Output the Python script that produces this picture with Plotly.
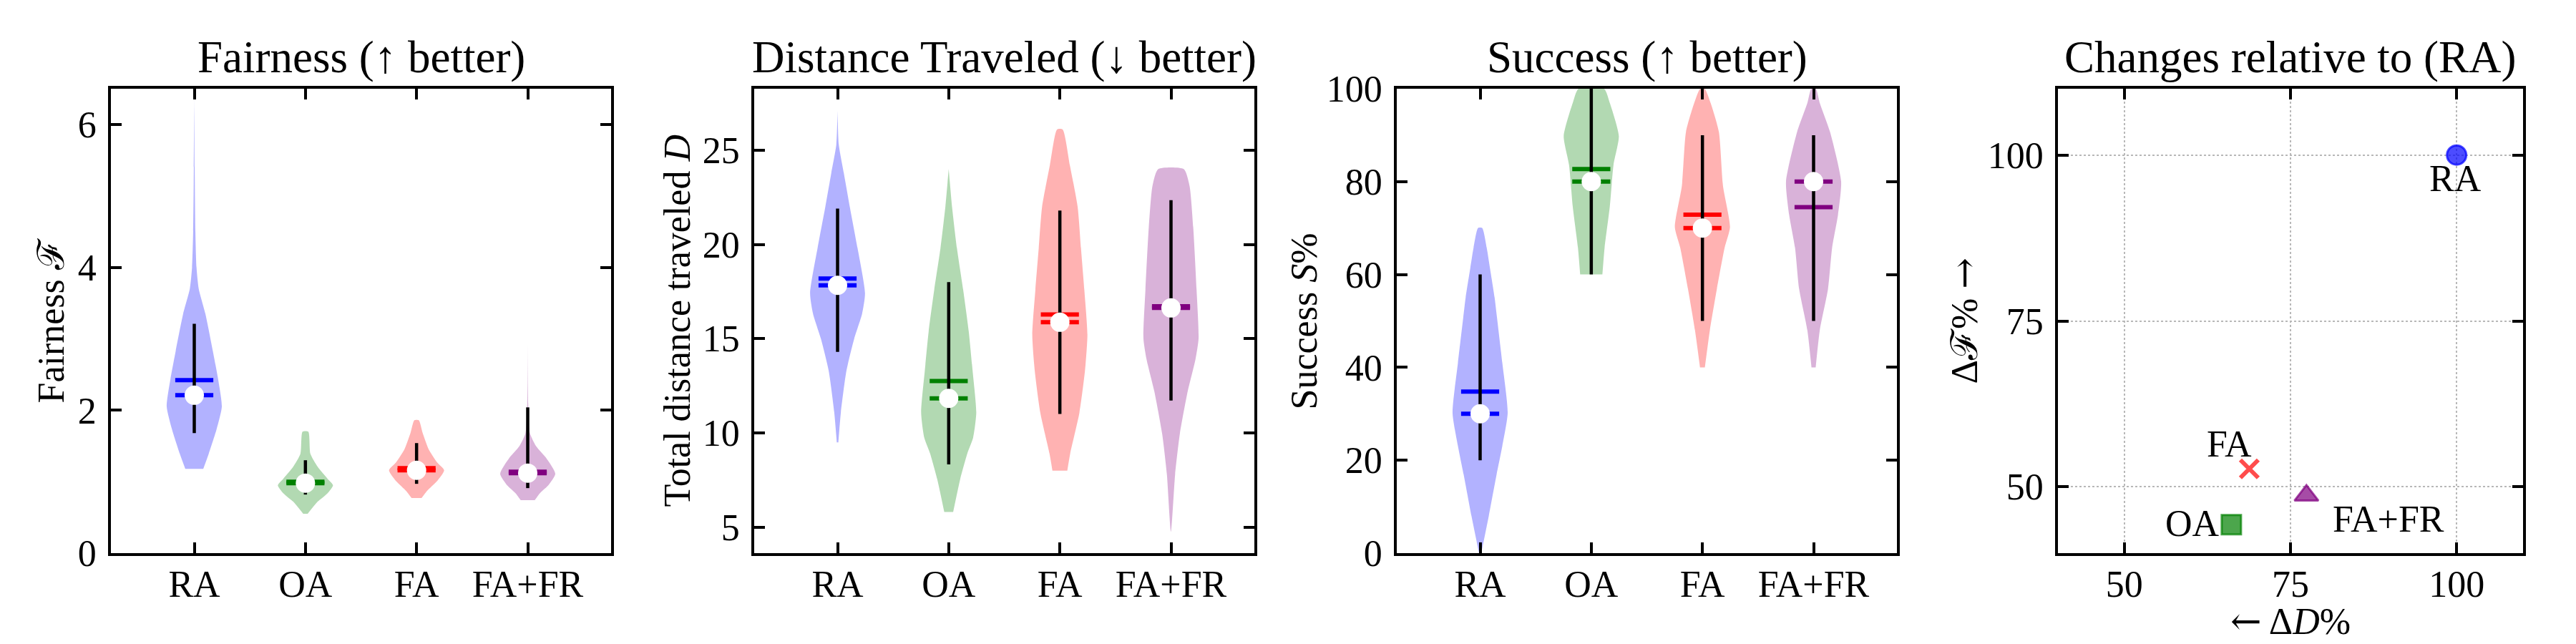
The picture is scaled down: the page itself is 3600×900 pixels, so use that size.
import plotly.graph_objects as go

# ---------------- data ----------------
categories = ["RA", "OA", "FA", "FA+FR"]
positions = [0, 1, 2, 3]

# Fairness violin outlines (y level, half width in category units)
fair_ra_y = [1.18, 1.39, 1.73, 2.05, 2.43, 2.83, 3.35, 3.70, 4.0, 4.5, 5.4, 6.35]
fair_ra_w = [0.081, 0.13, 0.20, 0.248, 0.215, 0.167, 0.10, 0.04, 0.02, 0.01, 0.004, 0.0]
fair_oa_y = [0.55, 0.72, 0.84, 0.95, 1.04, 1.21, 1.39, 1.70]
fair_oa_w = [0.02, 0.11, 0.2, 0.248, 0.2, 0.11, 0.045, 0.026]
fair_fa_y = [0.77, 0.87, 1.01, 1.16, 1.27, 1.45, 1.68, 1.86]
fair_fa_w = [0.045, 0.093, 0.185, 0.248, 0.185, 0.11, 0.055, 0.02]
fair_fafr_y = [0.74, 0.84, 0.95, 1.11, 1.33, 1.50, 1.68, 2.1, 2.92]
fair_fafr_w = [0.063, 0.11, 0.185, 0.248, 0.167, 0.074, 0.02, 0.004, 0.0]
fair_mean = [2.42, 1.00, 1.19, 1.14]
fair_median = [2.21, 0.98, 1.16, 1.12]
fair_lo = [1.68, 0.82, 0.97, 0.91]
fair_hi = [3.21, 1.30, 1.54, 2.04]

# Distance violin outlines
dist_ra_y = [9.5, 11.1, 13.3, 15.0, 16.3, 17.4, 19.8, 22.0, 23.8, 25.3, 27.1]
dist_ra_w = [0.007, 0.03, 0.08, 0.15, 0.22, 0.247, 0.18, 0.11, 0.056, 0.011, 0.0]
dist_oa_y = [5.8, 7.56, 8.9, 9.75, 11.07, 13.3, 15.4, 17.6, 19.8, 22.0, 24.0]
dist_oa_w = [0.04, 0.104, 0.167, 0.22, 0.248, 0.215, 0.18, 0.13, 0.074, 0.03, 0.0]
dist_fa_y = [8.0, 8.9, 11.07, 13.3, 15.2, 17.6, 19.8, 22.0, 24.2, 26.1]
dist_fa_w = [0.067, 0.093, 0.176, 0.226, 0.248, 0.22, 0.19, 0.16, 0.09, 0.025]
dist_fafr_y = [4.76, 7.8, 9.97, 12.2, 13.9, 15.0, 17.6, 20.9, 23.1, 24.0]
dist_fafr_w = [0.0, 0.037, 0.08, 0.15, 0.22, 0.248, 0.23, 0.2, 0.167, 0.115]
dist_mean = [18.19, 12.75, 16.28, 16.72]
dist_median = [17.83, 11.83, 15.87, 16.63]
dist_lo = [14.3, 8.33, 11.0, 11.72]
dist_hi = [21.9, 18.0, 21.8, 22.35]

# Success violin outlines
succ_ra_y = [0, 8.0, 16.9, 23.1, 30.2, 40.9, 50.7, 55.1, 61.3, 65.8, 70]
succ_ra_w = [0.01, 0.078, 0.148, 0.2, 0.248, 0.2, 0.152, 0.13, 0.089, 0.059, 0.019]
succ_oa_y = [60, 65.8, 74.7, 83.6, 89.8, 96.9, 100]
succ_oa_w = [0.1, 0.12, 0.167, 0.2, 0.248, 0.167, 0.115]
succ_fa_y = [40, 48, 56.9, 65.8, 70.2, 79.1, 90.7, 96.9, 100]
succ_fa_w = [0.022, 0.067, 0.13, 0.2, 0.248, 0.185, 0.148, 0.074, 0.02]
succ_fafr_y = [40, 48, 56.9, 65.8, 72.9, 80, 90.7, 96.9, 100]
succ_fafr_w = [0.019, 0.056, 0.13, 0.167, 0.22, 0.248, 0.148, 0.056, 0.02]
succ_mean = [34.8, 82.7, 72.9, 74.5]
succ_median = [30, 80, 70, 80]
succ_lo = [20, 60, 50, 50]
succ_hi = [60, 100, 90, 90]

# Relative changes (scatter)
rel_dist = [100, 66.1, 68.8, 77.4]
rel_fair = [100, 44.3, 52.7, 48.7]

# ---------------- style ----------------
FONT = "Liberation Serif, DejaVu Serif, serif"
TICK_SIZE = 52
TITLE_SIZE = 63
fill_colors = ["rgba(0,0,255,0.3)", "rgba(0,128,0,0.3)", "rgba(255,0,0,0.3)", "rgba(128,0,128,0.3)"]
line_colors = ["#0000ff", "#008000", "#ff0000", "#800080"]
marker_colors = ["rgba(0,0,255,0.7)", "rgba(0,128,0,0.7)", "rgba(255,0,0,0.7)", "rgba(128,0,128,0.7)"]
marker_symbols = ["circle", "square", "x-thin", "triangle-up"]

W, H = 3600, 900
plot_x = [(155, 854), (1054, 1753), (1952, 2651), (2876, 3526)]
plot_top, plot_bot = 124, 773
ydom = [1 - plot_bot / H, 1 - plot_top / H]

fig = go.Figure()

panels = [
    ([(fair_ra_y, fair_ra_w), (fair_oa_y, fair_oa_w), (fair_fa_y, fair_fa_w), (fair_fafr_y, fair_fafr_w)],
     fair_mean, fair_median, fair_lo, fair_hi),
    ([(dist_ra_y, dist_ra_w), (dist_oa_y, dist_oa_w), (dist_fa_y, dist_fa_w), (dist_fafr_y, dist_fafr_w)],
     dist_mean, dist_median, dist_lo, dist_hi),
    ([(succ_ra_y, succ_ra_w), (succ_oa_y, succ_oa_w), (succ_fa_y, succ_fa_w), (succ_fafr_y, succ_fafr_w)],
     succ_mean, succ_median, succ_lo, succ_hi),
]

for k, (outlines, means, medians, los, his) in enumerate(panels):
    xa = "x" if k == 0 else f"x{k+1}"
    ya = "y" if k == 0 else f"y{k+1}"
    for i, (ys, ws) in enumerate(outlines):
        p = positions[i]
        xs = [p + w for w in ws] + [p - w for w in reversed(ws)]
        yy = list(ys) + list(reversed(ys))
        fig.add_trace(go.Scatter(x=xs, y=yy, xaxis=xa, yaxis=ya, mode="lines",
                                 fill="toself", fillcolor=fill_colors[i],
                                 line=dict(width=0, shape="spline", smoothing=0.6),
                                 hoverinfo="skip", showlegend=False))
    # mean and median bars
    for i in range(4):
        fig.add_trace(go.Scatter(x=[positions[i], positions[i]], y=[means[i], medians[i]],
                                 xaxis=xa, yaxis=ya, mode="markers",
                                 marker=dict(symbol="line-ew", size=38,
                                             line=dict(width=6, color=line_colors[i])),
                                 hoverinfo="skip", showlegend=False))
    # black range lines
    for i in range(4):
        fig.add_trace(go.Scatter(x=[positions[i], positions[i]], y=[los[i], his[i]],
                                 xaxis=xa, yaxis=ya, mode="lines",
                                 line=dict(width=4.5, color="black"),
                                 hoverinfo="skip", showlegend=False))
    # white median dots
    fig.add_trace(go.Scatter(x=positions, y=medians, xaxis=xa, yaxis=ya, mode="markers",
                             marker=dict(symbol="circle", size=27, color="white"),
                             hoverinfo="skip", showlegend=False))

# Scatter panel
for i in range(4):
    if marker_symbols[i] == "x-thin":
        mk = dict(symbol="x-thin", size=25, line=dict(width=6, color=marker_colors[i]))
    else:
        sz = 27 if marker_symbols[i] != "triangle-up" else 29
        mk = dict(symbol=marker_symbols[i], size=sz, color=marker_colors[i],
                  line=dict(width=3, color=marker_colors[i]))
    fig.add_trace(go.Scatter(x=[rel_dist[i]], y=[rel_fair[i]], xaxis="x4", yaxis="y4",
                             mode="markers", marker=mk, hoverinfo="skip", showlegend=False))

label_shift = {"RA": (-2, -33), "OA": (-54, 2), "FA": (-28, 35), "FA+FR": (115, -33)}
annotations = []
for i, c in enumerate(categories):
    dx, dy = label_shift[c]
    annotations.append(dict(x=rel_dist[i], y=rel_fair[i], xref="x4", yref="y4", text=c,
                            showarrow=False, xshift=dx, yshift=dy,
                            font=dict(family=FONT, size=TICK_SIZE, color="black")))

titles = ["Fairness (↑ better)", "Distance Traveled (↓ better)", "Success (↑ better)",
          "Changes relative to (RA)"]
for k, t in enumerate(titles):
    cx = (plot_x[k][0] + plot_x[k][1]) / 2 / W
    annotations.append(dict(x=cx, y=1 - 80 / H, xref="paper", yref="paper", text=t,
                            showarrow=False, xanchor="center", yanchor="middle",
                            font=dict(family=FONT, size=TITLE_SIZE, color="black")))

ARROW = "<span style='font-family:DejaVu Serif'>{}</span>"
ylabels = ["Fairness ℱ", "Total distance traveled <i>D</i>", "Success <i>S</i>%",
           "Δℱ% " + ARROW.format("→")]
ylabel_x = [71, 946, 1822, 2745]
for k, t in enumerate(ylabels):
    annotations.append(dict(x=ylabel_x[k] / W, y=sum(ydom) / 2, xref="paper", yref="paper",
                            text=t, textangle=-90, showarrow=False, xanchor="center",
                            yanchor="middle", font=dict(family=FONT, size=TICK_SIZE, color="black")))
annotations.append(dict(x=(plot_x[3][0] + plot_x[3][1]) / 2 / W, y=1 - 868 / H, xref="paper",
                        yref="paper", text=ARROW.format("←") + " Δ<i>D</i>%", showarrow=False,
                        xanchor="center", yanchor="middle",
                        font=dict(family=FONT, size=TICK_SIZE, color="black")))

axis_common = dict(showline=True, linewidth=3.5, linecolor="black", mirror="ticks",
                   ticks="inside", ticklen=15, tickwidth=3.5, tickcolor="black",
                   showgrid=False, zeroline=False, automargin=False,
                   tickfont=dict(family=FONT, size=TICK_SIZE, color="black"))

layout = dict(width=W, height=H, margin=dict(l=0, r=0, t=0, b=0, pad=0, autoexpand=False),
              template="none",
              paper_bgcolor="white", plot_bgcolor="white", showlegend=False,
              annotations=annotations)

yranges = [[0, 6.5], [3.62, 28.26], [0, 100]]
ytickvals = [[0, 2, 4, 6], [5, 10, 15, 20, 25], [0, 20, 40, 60, 80, 100]]
for k in range(3):
    xn = "xaxis" if k == 0 else f"xaxis{k+1}"
    yn = "yaxis" if k == 0 else f"yaxis{k+1}"
    xa = "x" if k == 0 else f"x{k+1}"
    ya = "y" if k == 0 else f"y{k+1}"
    layout[xn] = dict(axis_common, domain=[plot_x[k][0] / W, plot_x[k][1] / W],
                      range=[-0.75, 3.75], tickvals=positions, ticktext=categories,
                      anchor=ya, ticklabelstandoff=-5)
    layout[yn] = dict(axis_common, domain=ydom, range=yranges[k], tickvals=ytickvals[k],
                      anchor=xa, ticklabelstandoff=6)

grid = dict(showgrid=True, gridcolor="#b8b8b8", gridwidth=1.5, griddash="dot")
layout["xaxis4"] = dict(axis_common, **grid, domain=[plot_x[3][0] / W, plot_x[3][1] / W],
                        range=[40, 110], tickvals=[50, 75, 100], anchor="y4",
                        ticklabelstandoff=-5)
layout["yaxis4"] = dict(axis_common, **grid, domain=ydom, range=[40, 110],
                        tickvals=[50, 75, 100], anchor="x4", ticklabelstandoff=6)

fig.update_layout(**layout)
fig.write_html("out.html", post_script="document.body.style.margin='0px';",
               config={"displayModeBar": False})
